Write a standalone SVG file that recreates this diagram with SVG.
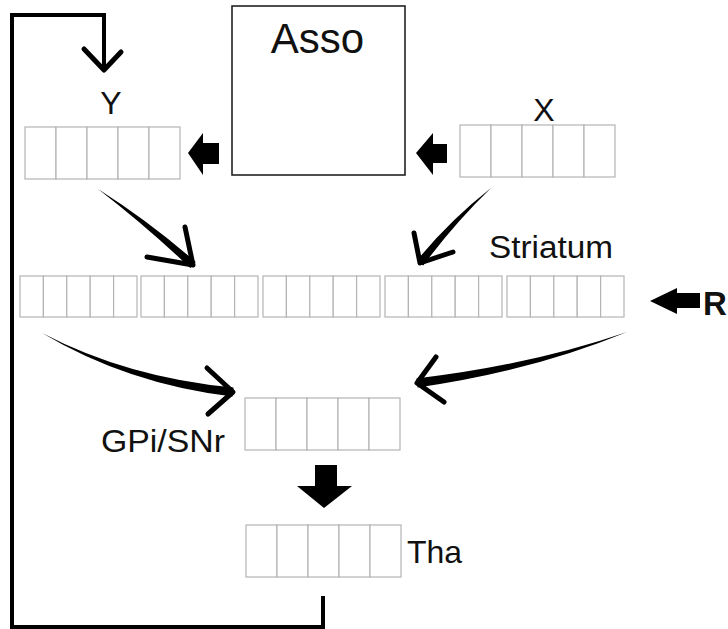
<svg xmlns="http://www.w3.org/2000/svg" width="728" height="629" viewBox="0 0 728 629">
<style>
.cell{fill:#fff;stroke:#b4b4b4;stroke-width:1.2}
.lbl{font-family:"Liberation Sans",Arial,sans-serif;fill:#111}
.arm{fill:none;stroke:#000;stroke-width:5;stroke-linecap:round;stroke-linejoin:round}
.blk{fill:#000}
</style>
<defs>
<g id="row5">
<rect class="cell" x="0" y="0" width="31" height="52"/>
<rect class="cell" x="31" y="0" width="31" height="52"/>
<rect class="cell" x="62" y="0" width="31" height="52"/>
<rect class="cell" x="93" y="0" width="31" height="52"/>
<rect class="cell" x="124" y="0" width="31" height="52"/>
</g>
<g id="srow">
<rect class="cell" x="0" y="0" width="23.4" height="41"/>
<rect class="cell" x="23.4" y="0" width="23.4" height="41"/>
<rect class="cell" x="46.8" y="0" width="23.4" height="41"/>
<rect class="cell" x="70.2" y="0" width="23.4" height="41"/>
<rect class="cell" x="93.6" y="0" width="23.4" height="41"/>
</g>
</defs>
<rect width="728" height="629" fill="#fff"/>

<g id="asso">
<rect x="232" y="6" width="173" height="169" fill="#fff" stroke="#222" stroke-width="1.6"/>
<text class="lbl" x="317.5" y="53" font-size="42" text-anchor="middle">Asso</text>
</g>

<g id="Y">
<use href="#row5" x="25" y="127"/>
<text class="lbl" x="111" y="114" font-size="32" text-anchor="middle">Y</text>
</g>

<g id="X">
<use href="#row5" x="460" y="125"/>
<text class="lbl" x="544" y="121" font-size="32" text-anchor="middle">X</text>
</g>

<g id="striatum">
<use href="#srow" x="20" y="276"/>
<use href="#srow" x="141" y="276"/>
<use href="#srow" x="263" y="276"/>
<use href="#srow" x="385" y="276"/>
<use href="#srow" x="507" y="276"/>
<text class="lbl" x="489" y="258" font-size="31" textLength="124" lengthAdjust="spacingAndGlyphs">Striatum</text>
</g>

<g id="R">
<text x="703" y="315" font-family="Liberation Sans,Arial,sans-serif" font-weight="bold" font-size="33" fill="#111">R</text>
</g>

<g id="gpi">
<use href="#row5" x="245" y="398"/>
<text class="lbl" x="101" y="452" font-size="31" textLength="124" lengthAdjust="spacingAndGlyphs">GPi/SNr</text>
</g>

<g id="tha">
<use href="#row5" x="246" y="525"/>
<text class="lbl" x="407" y="563" font-size="32">Tha</text>
</g>

<g id="connectors">
<!-- feedback loop -->
<path d="M323,596 V627 H12 V15 H104 V69" fill="none" stroke="#000" stroke-width="4"/>
<polyline class="arm" points="84,49 104,70 121,52" stroke-width="4"/>

<!-- block arrows -->
<polygon class="blk" points="188,153 203,133 203,143 219,143 219,164 203,164 203,175"/>
<polygon class="blk" points="416,153 433,133 433,144 447,144 447,163 433,163 433,175"/>
<polygon class="blk" points="650,301 677,288 677,293 700,293 700,308 677,308 677,314"/>
<polygon class="blk" points="315,465 337,465 337,486 352,486 324,508 297,486 315,486"/>

<!-- Y to striatum -->
<path class="blk" d="M98,189 Q146.1,226.1 190.3,268 L195.7,262 Q149.9,221.9 98,189 Z"/>
<polyline class="arm" points="185,227 193,265 147,257"/>

<!-- X to striatum -->
<path class="blk" d="M491,188 Q449.8,220.3 416.9,260.5 L423.2,265.5 Q454.2,223.7 491,188 Z"/>
<polyline class="arm" points="414,233 420,263 453,252"/>

<!-- striatum to GPi (left) -->
<path class="blk" d="M42,333 Q127.7,384.1 232.5,396.5 L233.5,387.5 Q128.3,377.9 42,333 Z"/>
<polyline class="arm" points="207,368 233,392 208,414"/>

<!-- striatum to GPi (right) -->
<path class="blk" d="M627,332 Q531.6,364.9 416.4,378.5 L417.6,387.5 Q532.4,371.1 627,332 Z"/>
<polyline class="arm" points="436,357 417,383 444,402"/>
</g>
</svg>
